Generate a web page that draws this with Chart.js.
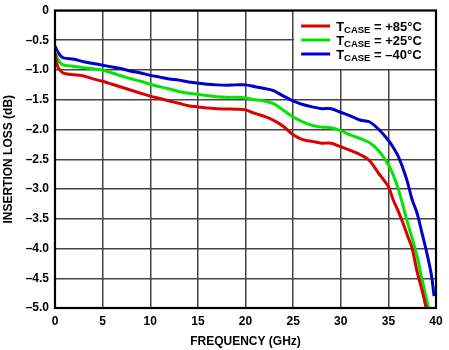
<!DOCTYPE html>
<html>
<head>
<meta charset="utf-8">
<script src="https://cdn.jsdelivr.net/npm/chart.js@4.4.1/dist/chart.umd.min.js"></script>
<style>
  html, body { margin: 0; padding: 0; background: #fff; }
  #wrap { width: 449px; height: 350px; }
</style>
</head>
<body>
<div id="wrap"><canvas id="lossChart"></canvas></div>
<script>
// insertion loss vs frequency, three case temperatures
const frequency = [0, 0.3, 0.7, 1, 2, 3, 4, 5, 6, 7, 8, 9, 10, 11, 12, 13, 14, 15, 16, 17, 18, 19, 20,
  21, 22, 23, 24, 25, 26, 27, 28, 29, 30, 31, 32, 33, 34, 35, 35.5, 36, 36.5, 37, 37.5, 38, 38.5, 39, 39.5, 39.8];
const loss85 = [-0.72, -0.95, -1.03, -1.06, -1.08, -1.10, -1.15, -1.19, -1.24, -1.29, -1.34, -1.39, -1.44,
  -1.48, -1.52, -1.56, -1.60, -1.62, -1.64, -1.65, -1.655, -1.66, -1.67,
  -1.73, -1.78, -1.85, -1.95, -2.09, -2.17, -2.20, -2.23, -2.23, -2.29, -2.35, -2.42, -2.52, -2.74,
  -2.96, -3.18, -3.36, -3.56, -3.78, -4.00, -4.38, -4.68, -5.02, null, null];
const loss25 = [-0.68, -0.82, -0.90, -0.92, -0.94, -0.96, -0.98, -1.00, -1.05, -1.10, -1.15, -1.19, -1.24,
  -1.28, -1.32, -1.36, -1.39, -1.41, -1.43, -1.45, -1.46, -1.46, -1.47,
  -1.50, -1.52, -1.57, -1.68, -1.79, -1.87, -1.93, -1.96, -1.97, -2.02, -2.09, -2.15, -2.22, -2.36,
  -2.59, -2.76, -2.98, -3.26, -3.56, -3.83, -4.12, -4.50, -4.85, -5.20, null];
const lossM40 = [-0.60, -0.70, -0.78, -0.80, -0.82, -0.86, -0.89, -0.92, -0.95, -0.98, -1.02, -1.05, -1.09,
  -1.12, -1.15, -1.17, -1.20, -1.22, -1.24, -1.25, -1.255, -1.25, -1.25,
  -1.28, -1.31, -1.35, -1.44, -1.52, -1.58, -1.62, -1.65, -1.65, -1.71, -1.77, -1.84, -1.87, -2.00,
  -2.18, -2.30, -2.44, -2.64, -2.88, -3.18, -3.40, -3.72, -4.05, -4.43, -4.80];

const seriesTemps = ['+85°C', '+25°C', '\u201340°C'];
const seriesColors = ['#dd0000', '#00e600', '#0000cc'];
const xTicks = [0, 5, 10, 15, 20, 25, 30, 35, 40];
const yTicks = [0, -0.5, -1.0, -1.5, -2.0, -2.5, -3.0, -3.5, -4.0, -4.5, -5.0];

const FONT = "'Liberation Sans', Arial, Helvetica, sans-serif";

function toPoints(values) {
  return frequency.map(function (f, i) { return { x: f, y: values[i] }; });
}

function fmtY(v) {
  if (Math.abs(v) < 1e-9) return '0';
  return '\u2013' + Math.abs(v).toFixed(1);
}

// white legend panel in the upper right corner of the plot
const legendPanel = {
  id: 'legendPanel',
  beforeDatasetsDraw: function (chart) {
    const ctx = chart.ctx;
    const xs = chart.scales.x, ys = chart.scales.y;
    const left = xs.getPixelForValue(25), right = xs.getPixelForValue(40);
    const top = ys.getPixelForValue(0), bottom = ys.getPixelForValue(-1.0);
    ctx.save();
    ctx.fillStyle = '#fff';
    ctx.fillRect(left + 1, top, right - left - 1, bottom - top - 1);
    ctx.restore();
  },
  afterDatasetsDraw: function (chart) {
    const ctx = chart.ctx;
    const xs = chart.scales.x, ys = chart.scales.y;
    const left = xs.getPixelForValue(25);
    const top = ys.getPixelForValue(0);
    ctx.save();
    seriesTemps.forEach(function (t, i) {
      const cy = top + 15.5 + i * 14;
      ctx.strokeStyle = seriesColors[i];
      ctx.lineWidth = 3;
      ctx.beginPath();
      ctx.moveTo(left + 8, cy);
      ctx.lineTo(left + 37, cy);
      ctx.stroke();
      ctx.fillStyle = '#000';
      ctx.textBaseline = 'alphabetic';
      let x = left + 43;
      ctx.font = 'bold 13px ' + FONT;
      ctx.fillText('T', x, cy + 5);
      x += ctx.measureText('T').width;
      ctx.font = 'bold 9.5px ' + FONT;
      ctx.fillText('CASE', x, cy + 7);
      x += ctx.measureText('CASE').width;
      ctx.font = 'bold 13px ' + FONT;
      ctx.fillText(' = ' + t, x, cy + 5);
    });
    ctx.restore();
  },
  afterDraw: function (chart) {
    const a = chart.chartArea;
    const ctx = chart.ctx;
    ctx.save();
    ctx.strokeStyle = '#000';
    ctx.lineWidth = 2.2;
    ctx.strokeRect(a.left, a.top, a.right - a.left, a.bottom - a.top);
    ctx.restore();
  }
};

function makeSet(values, i) {
  return {
    label: seriesTemps[i],
    data: toPoints(values),
    borderColor: seriesColors[i],
    backgroundColor: seriesColors[i],
    borderWidth: 3,
    pointRadius: 0,
    tension: 0.3,
    spanGaps: false
  };
}

new Chart(document.getElementById('lossChart'), {
  type: 'line',
  data: {
    datasets: [makeSet(loss85, 0), makeSet(loss25, 1), makeSet(lossM40, 2)]
  },
  options: {
    responsive: true,
    maintainAspectRatio: false,
    animation: false,
    layout: { padding: { top: 4.5, right: 13, bottom: 0, left: 0 } },
    plugins: {
      legend: { display: false },
      tooltip: { enabled: false }
    },
    scales: {
      x: {
        type: 'linear',
        min: 0,
        max: 40,
        afterBuildTicks: function (s) { s.ticks = xTicks.map(function (v) { return { value: v }; }); },
        afterFit: function (s) { s.height = 42; },
        grid: { color: '#444', lineWidth: 1.5, drawTicks: false },
        border: { color: '#000', width: 2 },
        ticks: {
          color: '#000',
          padding: 6,
          maxRotation: 0,
          font: { family: FONT, size: 12, weight: 'bold' }
        },
        title: {
          display: true,
          text: 'FREQUENCY (GHz)',
          color: '#000',
          padding: { top: 0, bottom: 1 },
          font: { family: FONT, size: 12, weight: 'bold' }
        }
      },
      y: {
        min: -5,
        max: 0,
        afterBuildTicks: function (s) { s.ticks = yTicks.map(function (v) { return { value: v }; }); },
        afterFit: function (s) { s.width = 55; },
        grid: { color: '#444', lineWidth: 1.5, drawTicks: false },
        border: { color: '#000', width: 2 },
        ticks: {
          color: '#000',
          padding: 6,
          callback: fmtY,
          font: { family: FONT, size: 12, weight: 'bold', lineHeight: 0.75 }
        },
        title: {
          display: true,
          text: 'INSERTION LOSS (dB)',
          color: '#000',
          padding: { top: 1, bottom: 0 },
          font: { family: FONT, size: 12, weight: 'bold' }
        }
      }
    }
  },
  plugins: [legendPanel]
});
</script>
</body>
</html>
